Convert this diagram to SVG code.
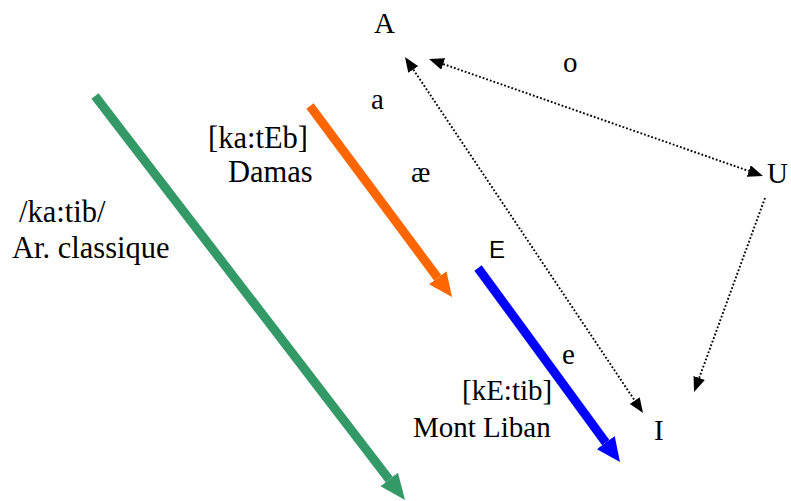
<svg xmlns="http://www.w3.org/2000/svg" width="791" height="501" viewBox="0 0 791 501">
<style>
.t{font-family:"Liberation Serif","Times New Roman",serif;font-size:29px;fill:#000}
.b{font-size:30.5px}
.s{font-family:"Liberation Sans",Arial,sans-serif;font-size:24px;fill:#000}
.thick{stroke-width:9;fill:none;stroke-linecap:butt}
.dot{stroke:#000;stroke-width:1.9;stroke-dasharray:1.8 2;fill:none}
</style>
<defs>
<marker id="hg" markerUnits="userSpaceOnUse" markerWidth="26" markerHeight="22" refX="0" refY="11" orient="auto"><path d="M0,0 L26,11 L0,22 z" fill="#339966"/></marker>
<marker id="ho" markerUnits="userSpaceOnUse" markerWidth="24" markerHeight="22" refX="0" refY="11" orient="auto"><path d="M0,0 L24,11 L0,22 z" fill="#FF6600"/></marker>
<marker id="hb" markerUnits="userSpaceOnUse" markerWidth="24" markerHeight="22" refX="0" refY="11" orient="auto"><path d="M0,0 L24,11 L0,22 z" fill="#0000FF"/></marker>
<marker id="hk" markerUnits="userSpaceOnUse" markerWidth="15" markerHeight="12" refX="0" refY="6" orient="auto-start-reverse"><path d="M0,0 L15,6 L0,12 z" fill="#000"/></marker>
</defs>
<g id="connectors">
<line class="thick" x1="95" y1="96" x2="389.2" y2="479.4" stroke="#339966" marker-end="url(#hg)"/>
<line class="thick" x1="310" y1="106" x2="437.7" y2="277.7" stroke="#FF6600" marker-end="url(#ho)"/>
<line class="thick" x1="478" y1="268" x2="605.8" y2="442.6" stroke="#0000FF" marker-end="url(#hb)"/>
<line class="dot" x1="413.3" y1="69.5" x2="634.7" y2="400.5" marker-start="url(#hk)" marker-end="url(#hk)"/>
<line class="dot" x1="443.2" y1="64" x2="748.8" y2="171" marker-start="url(#hk)" marker-end="url(#hk)"/>
<line class="dot" x1="765" y1="198" x2="699.2" y2="377.9" marker-end="url(#hk)"/>
</g>
<g id="A"><text class="t" x="374" y="33">A</text></g>
<g id="o"><text class="t" x="563" y="72">o</text></g>
<g id="a"><text class="t" x="371" y="109">a</text></g>
<g id="U"><text class="t" x="767" y="183">U</text></g>
<g id="ae"><text class="t" x="411" y="182">æ</text></g>
<g id="damas"><text class="t b" x="208" y="148">[ka:tEb]</text><text class="t b" x="228" y="182">Damas</text></g>
<g id="classique"><text class="t b" x="19" y="222">/ka:tib/</text><text class="t b" x="12" y="258">Ar. classique</text></g>
<g id="E"><text class="s" x="489" y="258">E</text></g>
<g id="e"><text class="t" x="562" y="364">e</text></g>
<g id="liban"><text class="t" x="462" y="400">[kE:tib]</text><text class="t" x="413" y="437">Mont Liban</text></g>
<g id="I"><text class="t" x="654" y="440">I</text></g>
</svg>
